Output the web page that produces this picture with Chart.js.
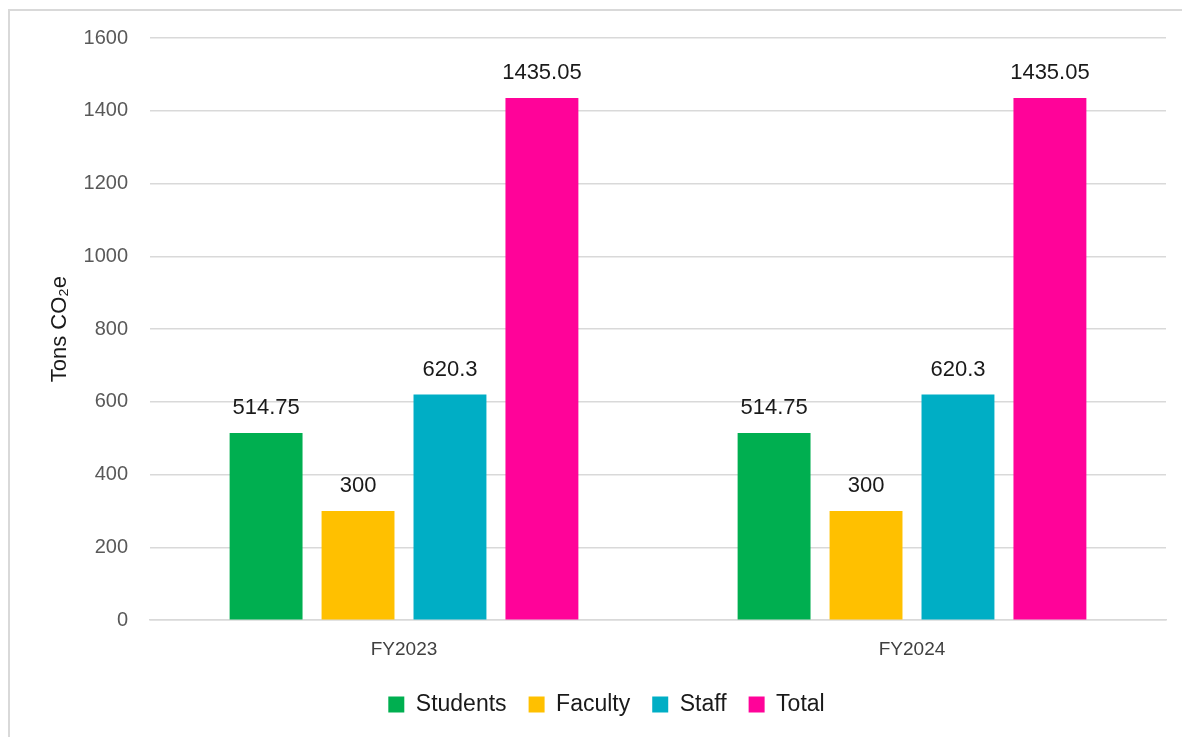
<!DOCTYPE html>
<html>
<head>
<meta charset="utf-8">
<script src="https://cdn.jsdelivr.net/npm/chart.js@4"></script>
<style>
    html, body { margin: 0; padding: 0; background: #fff; overflow: hidden; }
    #frame {
        position: absolute; left: 8px; top: 9px;
        width: 1300px; height: 900px;
        border: 2px solid #d9d9d9;
    }
    #wrap { position: absolute; left: 0; top: 0; width: 1182px; height: 737px; }
</style>
</head>
<body>
<div id="frame"></div>
<div id="wrap"><canvas id="co2Chart" width="1182" height="737"></canvas></div>
<script>
// Chart data
const years = ['FY2023', 'FY2024'];
const students = [514.75, 514.75];
const faculty = [300, 300];
const staff = [620.3, 620.3];
const total = [1435.05, 1435.05];
const yTicks = ['0', '200', '400', '600', '800', '1000', '1200', '1400', '1600'];

const FONT = '"Liberation Sans", Arial, sans-serif';

// Draw value labels above each bar
const valueLabels = {
    id: 'valueLabels',
    afterDatasetsDraw(chart) {
        const ctx = chart.ctx;
        ctx.save();
        ctx.font = '22px ' + FONT;
        ctx.fillStyle = '#1a1a1a';
        ctx.textAlign = 'center';
        ctx.textBaseline = 'middle';
        chart.data.datasets.forEach(function(ds, i) {
            chart.getDatasetMeta(i).data.forEach(function(bar, j) {
                ctx.fillText(String(ds.data[j]), bar.x, bar.y - 25);
            });
        });
        ctx.restore();
    }
};

const ctx = document.getElementById('co2Chart').getContext('2d');
new Chart(ctx, {
    type: 'bar',
    data: {
        labels: years,
        datasets: [
            { label: 'Students', data: students, backgroundColor: '#00af50' },
            { label: 'Faculty', data: faculty, backgroundColor: '#ffc000' },
            { label: 'Staff', data: staff, backgroundColor: '#00aec5' },
            { label: 'Total', data: total, backgroundColor: '#ff0399' }
        ]
    },
    options: {
        responsive: false,
        animation: false,
        layout: { padding: { left: 47, right: 16, top: 38, bottom: 11 } },
        datasets: { bar: { categoryPercentage: 0.724, barPercentage: 0.793 } },
        scales: {
            x: {
                grid: { display: false },
                border: { color: '#d9d9d9', width: 1.5 },
                ticks: { color: '#404040', font: { size: 19, family: FONT }, padding: 10 }
            },
            y: {
                min: 0,
                max: 1600,
                ticks: {
                    stepSize: 200,
                    color: '#595959',
                    padding: 22,
                    font: { size: 20, family: FONT },
                    callback: function(value, index) { return yTicks[index]; }
                },
                grid: { color: '#d9d9d9', lineWidth: 1.5, drawTicks: false },
                border: { display: false },
                title: {
                    display: true,
                    text: 'Tons CO₂e',
                    color: '#1a1a1a',
                    padding: 0,
                    font: { size: 22, family: FONT }
                },
                afterFit(scale) { scale.width = 103; }
            }
        },
        plugins: {
            legend: {
                position: 'bottom',
                labels: {
                    boxWidth: 16,
                    boxHeight: 16,
                    color: '#1a1a1a',
                    padding: 22,
                    font: { size: 23, family: FONT }
                }
            },
            tooltip: { enabled: false }
        }
    },
    plugins: [valueLabels]
});
</script>
</body>
</html>
